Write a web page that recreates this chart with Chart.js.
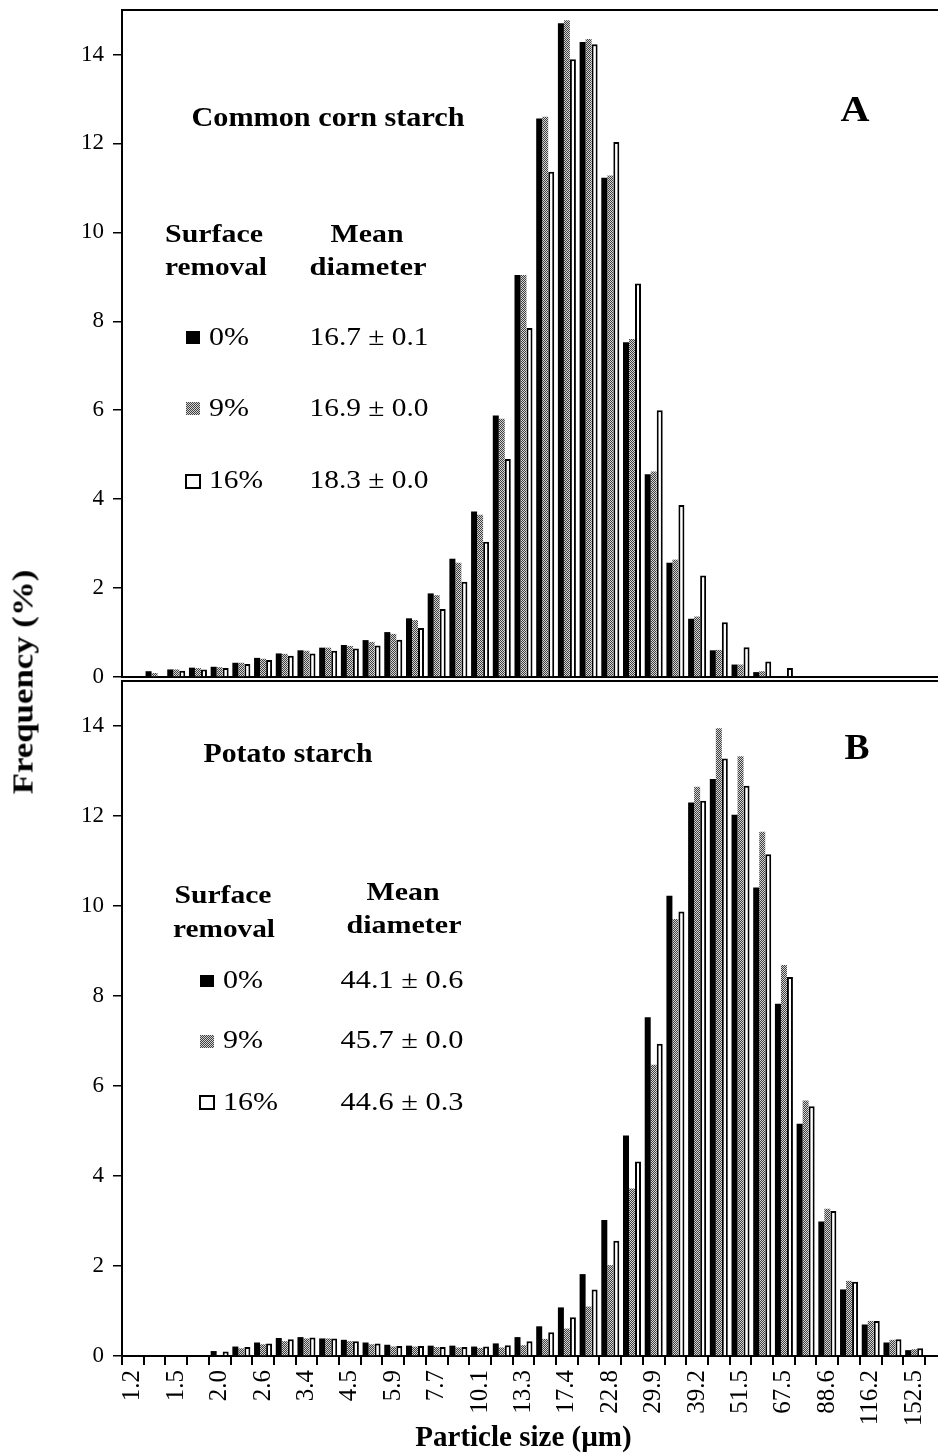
<!DOCTYPE html>
<html><head><meta charset="utf-8">
<script src="https://cdn.jsdelivr.net/npm/chart.js@4"></script>
<style>
body{margin:0;background:#fff;}
#wrap{position:relative;width:938px;height:1456px;overflow:hidden;background:#fff;}
#cA{position:absolute;left:0;top:0;}
#cB{position:absolute;left:0;top:679px;}
#ytitle{position:absolute;left:23px;top:682px;transform:translate(-50%,-50%) rotate(-90deg) scaleX(1.2);font:bold 29px "Liberation Serif";white-space:nowrap;color:#000;}
</style></head>
<body><div id="wrap"><canvas id="cA" width="938" height="690"></canvas><canvas id="cB" width="938" height="777"></canvas><div id="ytitle">Frequency (%)</div></div>
<script>
// Particle size classes (µm)
const sizeLabels = ['1.2','1.3','1.5','1.7','2.0','2.3','2.6','3.0','3.4','3.9','4.5','5.2','5.9','6.7','7.7','8.8','10.1','11.6','13.3','15.2','17.4','19.9','22.8','26.1','29.9','34.2','39.2','44.9','51.5','59.0','67.5','77.3','88.6','101.5','116.2','133.1','152.5'];
const seriesNames = ['0%','9%','16%'];
// A: Common corn starch, frequency (%)
const corn0  = [0,0.13,0.17,0.21,0.23,0.32,0.43,0.53,0.60,0.66,0.72,0.83,1.01,1.32,1.88,2.66,3.72,5.88,9.04,12.56,14.70,14.28,11.23,7.53,4.56,2.57,1.31,0.60,0.28,0.11,0,0,0,0,0,0,0];
const corn9  = [0,0.09,0.17,0.20,0.22,0.32,0.41,0.52,0.59,0.66,0.70,0.79,0.97,1.28,1.84,2.57,3.65,5.81,9.04,12.60,14.77,14.35,11.28,7.60,4.62,2.64,1.36,0.61,0.28,0.13,0,0,0,0,0,0,0];
const corn16 = [0,0,0.14,0.17,0.20,0.29,0.38,0.48,0.53,0.59,0.64,0.71,0.84,1.10,1.53,2.14,3.04,4.90,7.85,11.36,13.89,14.23,12.03,8.85,6.00,3.87,2.28,1.23,0.67,0.35,0.20,0,0,0,0,0,0];
const cornMeans = ['16.7 \u00b1 0.1','16.9 \u00b1 0.0','18.3 \u00b1 0.0'];
// B: Potato starch, frequency (%)
const potato0  = [0,0,0,0,0.11,0.21,0.30,0.40,0.42,0.39,0.36,0.30,0.25,0.23,0.23,0.23,0.21,0.28,0.42,0.66,1.08,1.82,3.02,4.90,7.53,10.23,12.30,12.82,12.03,10.41,7.83,5.16,2.99,1.48,0.70,0.30,0.13];
const potato9  = [0,0,0,0,0,0.17,0.26,0.33,0.39,0.39,0.33,0.26,0.21,0.21,0.20,0.19,0.18,0.19,0.24,0.38,0.61,1.10,2.02,3.72,6.47,9.71,12.65,13.95,13.33,11.65,8.69,5.68,3.27,1.67,0.78,0.36,0.15];
const potato16 = [0,0,0,0,0.10,0.20,0.28,0.37,0.41,0.39,0.33,0.28,0.22,0.22,0.20,0.20,0.21,0.24,0.33,0.53,0.86,1.48,2.56,4.32,6.94,9.88,12.34,13.28,12.67,11.15,8.42,5.55,3.22,1.65,0.78,0.37,0.17];
const potatoMeans = ['44.1 \u00b1 0.6','45.7 \u00b1 0.0','44.6 \u00b1 0.3'];
const yTicks = [0,2,4,6,8,10,12,14];

const SERIF = '"Liberation Serif", "Times New Roman", serif';

// grey dithered pattern
const pc = document.createElement('canvas'); pc.width = 2; pc.height = 2;
const pctx = pc.getContext('2d');
pctx.fillStyle = '#d4d4d4'; pctx.fillRect(0,0,2,2);
pctx.fillStyle = '#404040'; pctx.fillRect(0,0,1,1); pctx.fillRect(1,1,1,1);
const greyPattern = pctx.createPattern(pc, 'repeat');

function sText(ctx, str, x, y, font, align, w) {
  ctx.save();
  ctx.font = font; ctx.fillStyle = '#000'; ctx.textBaseline = 'alphabetic';
  const m = ctx.measureText(str).width;
  const s = w ? w / m : 1;
  ctx.translate(x, y); ctx.scale(s, 1);
  ctx.textAlign = align;
  ctx.fillText(str, 0, 0);
  ctx.restore();
}
function swatch(ctx, i, x, y, w, h) {
  ctx.save();
  if (i === 0) { ctx.fillStyle = '#000'; ctx.fillRect(x, y, w, h); }
  else if (i === 1) { ctx.fillStyle = greyPattern; ctx.fillRect(x, y, w, h); }
  else { ctx.fillStyle = '#fff'; ctx.fillRect(x, y, w, h); ctx.strokeStyle = '#000'; ctx.lineWidth = 2; ctx.strokeRect(x+1, y+1, w-2, h-2); }
  ctx.restore();
}

function framePlugin(annDraw) {
  return {
    id: 'frame',
    afterDraw(chart) {
      const ctx = chart.ctx, a = chart.chartArea, W = chart.width;
      ctx.save();
      ctx.strokeStyle = '#000'; ctx.lineWidth = 2;
      ctx.beginPath();
      ctx.moveTo(a.left - 1, a.top); ctx.lineTo(W, a.top);
      ctx.moveTo(a.right - 1, a.bottom); ctx.lineTo(W, a.bottom);
      ctx.stroke();
      ctx.restore();
      annDraw(ctx);
    }
  };
}

function drawAnnA(ctx) {
  const B = 'bold 26px ' + SERIF, N = '26px ' + SERIF;
  sText(ctx, 'Common corn starch', 328, 126, 'bold 27px ' + SERIF, 'center', 273);
  sText(ctx, 'A', 855, 121, 'bold 36px ' + SERIF, 'center', 29);
  sText(ctx, 'Surface', 214, 242, B, 'center', 98);
  sText(ctx, 'removal', 216, 275, B, 'center', 102);
  sText(ctx, 'Mean', 367, 242, B, 'center', 73);
  sText(ctx, 'diameter', 368, 275, B, 'center', 117);
  const base = [345, 416, 488];
  const sq = [[186,331,14,13],[186,402,14,13],[185,474,16,15]];
  const wN = [40, 40, 54];
  for (let i = 0; i < 3; i++) {
    swatch(ctx, i, sq[i][0], sq[i][1], sq[i][2], sq[i][3]);
    sText(ctx, seriesNames[i], 209, base[i], N, 'left', wN[i]);
    sText(ctx, cornMeans[i], 369, base[i], N, 'center', 119);
  }
}
function drawAnnB(ctx) {
  const o = 679;
  const B = 'bold 26px ' + SERIF, N = '26px ' + SERIF;
  sText(ctx, 'Potato starch', 288, 762 - o, 'bold 27px ' + SERIF, 'center', 169);
  sText(ctx, 'B', 857, 759 - o, 'bold 36px ' + SERIF, 'center', 25);
  sText(ctx, 'Surface', 223, 903 - o, B, 'center', 97);
  sText(ctx, 'removal', 224, 937 - o, B, 'center', 102);
  sText(ctx, 'Mean', 403, 900 - o, B, 'center', 73);
  sText(ctx, 'diameter', 404, 933 - o, B, 'center', 115);
  const base = [988, 1048, 1110];
  const sq = [[200,975,14,12],[200,1035,14,13],[199,1095,16,15]];
  const wN = [40, 40, 55];
  for (let i = 0; i < 3; i++) {
    swatch(ctx, i, sq[i][0], sq[i][1] - o, sq[i][2], sq[i][3]);
    sText(ctx, seriesNames[i], 223, base[i] - o, N, 'left', wN[i]);
    sText(ctx, potatoMeans[i], 402, base[i] - o, N, 'center', 123);
  }
}

function makeChart(id, d0, d9, d16, isBottom, padTop, annDraw) {
  const ds = (data, i) => {
    const common = { data, label: seriesNames[i], categoryPercentage: 0.83, barPercentage: 1.0 };
    if (i === 0) return Object.assign(common, { backgroundColor: '#000', borderWidth: 0 });
    if (i === 1) return Object.assign(common, { backgroundColor: greyPattern, borderWidth: 0 });
    return Object.assign(common, { backgroundColor: '#fff', borderColor: '#000', borderWidth: 2 });
  };
  return new Chart(document.getElementById(id), {
    type: 'bar',
    data: { labels: sizeLabels, datasets: [ds(d0,0), ds(d9,1), ds(d16,2)] },
    options: {
      responsive: false, animation: false, devicePixelRatio: 1,
      layout: { padding: { top: padTop, right: 13, left: 0, bottom: 0 } },
      plugins: { legend: { display: false }, tooltip: { enabled: false } },
      scales: {
        x: {
          afterFit: s => { s.height = isBottom ? 100 : 13; s.paddingLeft = 0; s.paddingRight = 0; },
          border: { display: true, color: '#000', width: 2 },
          grid: { display: isBottom, drawOnChartArea: false, drawTicks: true, tickLength: 9, color: '#000', lineWidth: 2, offset: true },
          ticks: {
            display: isBottom, autoSkip: false, minRotation: 90, maxRotation: 90, padding: 5,
            color: '#000', font: { family: SERIF, size: 25 },
            callback: (v, i) => (i % 2 === 0 ? sizeLabels[i] : '')
          },
          title: { display: isBottom, text: 'Particle size (\u00b5m)', color: '#000', font: { family: SERIF, size: 29, weight: 'bold' }, padding: 0 }
        },
        y: {
          min: 0, max: 15,
          afterFit: s => { s.width = 122; s.paddingTop = 0; s.paddingBottom = 0; },
          afterBuildTicks: s => { s.ticks = yTicks.map(v => ({ value: v })); },
          border: { display: true, color: '#000', width: 2 },
          grid: { drawOnChartArea: false, drawTicks: true, tickLength: 9, color: '#000', lineWidth: 1.5 },
          ticks: { color: '#000', padding: 9, font: { family: SERIF, size: 23 } }
        }
      }
    },
    plugins: [framePlugin(annDraw)]
  });
}

makeChart('cA', corn0, corn9, corn16, false, 10, drawAnnA);
makeChart('cB', potato0, potato9, potato16, true, 2, drawAnnB);
</script>
</body></html>
